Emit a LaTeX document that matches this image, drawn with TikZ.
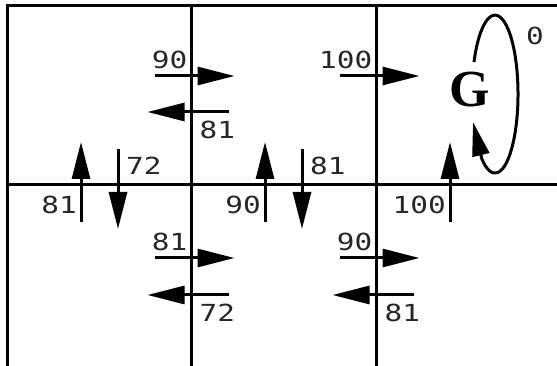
\documentclass[tikz,border=0pt]{standalone}
\usepackage{fontspec}
\usepackage{tikz}
\usetikzlibrary{arrows.meta}
\newfontfamily\valfont[FakeStretch=1.25]{DejaVu Sans Mono}
\newfontfamily\goalfont{Liberation Serif}

\begin{document}
\begin{tikzpicture}[
    x=1pt, y=1pt,
    wall/.style={line width=3pt},
    act/.style={line width=3pt, -{Triangle[length=37pt, width=18pt]}},
    val/.style={inner sep=0pt, text=black!85, font=\valfont\fontsize{23.5}{28}\selectfont}
]
    \useasboundingbox (0,0) rectangle (557,366);
    % grid of states
    \draw[wall] (557,360) -- (7,360) -- (7,0);
    \draw[wall] (7,181) -- (557,181);
    \foreach \xv in {191.5,376.5}
        \draw[wall] (\xv,360) -- (\xv,0);

    % moves to the right
    \foreach \xv/\yr/\vr/\id in {191.5/290/90/a, 376.5/290/100/b, 191.5/108/81/c, 376.5/108/90/d} {
        \draw[act] (\xv-37,\yr) -- (\xv+43,\yr);
        \node[val, anchor=south east] (r\id) at (\xv-4,\yr+7) {\vr};
    }
    % moves to the left
    \foreach \xv/\yl/\vl/\id in {191.5/254/81/a, 191.5/71/72/c, 376.5/71/81/d} {
        \draw[act] (\xv+37,\yl) -- (\xv-44,\yl);
        \node[val, anchor=north west] (l\id) at (\xv+8,\yl-9) {\vl};
    }
    % moves up
    \foreach \xu/\vu/\id in {81/81/a, 265/90/b, 450/100/c} {
        \draw[act] (\xu,144) -- (\xu,224);
        \node[val, anchor=east] (u\id) at (\xu-4,161) {\vu};
    }
    % moves down
    \foreach \xd/\vd/\id in {118/72/a, 302/81/b} {
        \draw[act] (\xd,217) -- (\xd,137);
        \node[val, anchor=west] (d\id) at (\xd+8,200) {\vd};
    }

    % goal state with its self loop
    \node[inner sep=0pt, font=\goalfont\bfseries\fontsize{52}{60}\selectfont] (goal) at (470,276) {G};
    \node[val] (stay) at (535,330) {0};
    \draw[line width=3pt, -{Triangle[length=34pt, width=17pt]}]
        (474,304) arc[start angle=156, end angle=-125, x radius=23, y radius=79] -- (473,244);
\end{tikzpicture}
\end{document}
